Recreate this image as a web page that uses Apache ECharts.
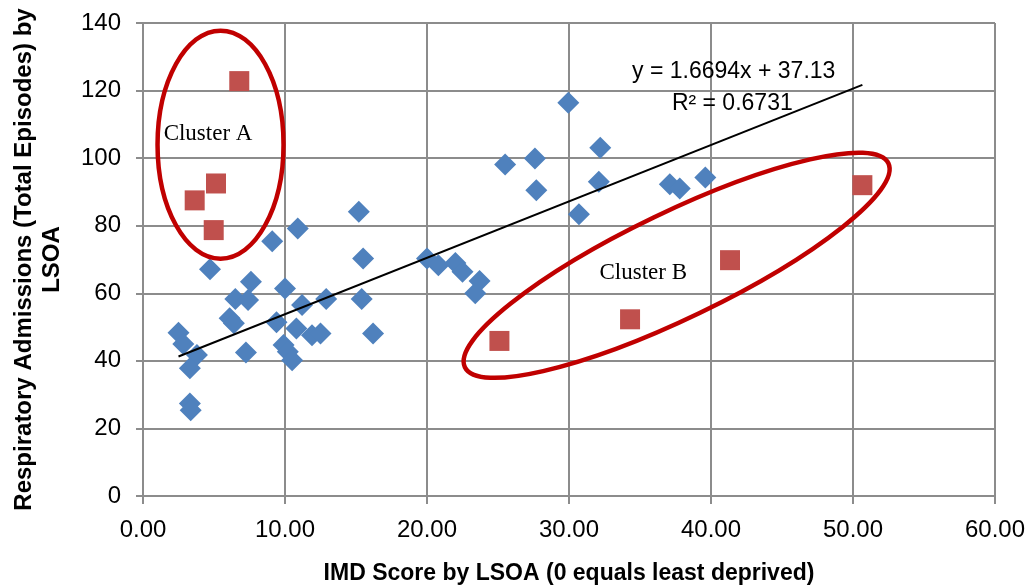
<!DOCTYPE html>
<html>
<head>
<meta charset="utf-8">
<script src="https://cdn.jsdelivr.net/npm/echarts@6/dist/echarts.min.js"></script>
<style>
    html, body { margin: 0; padding: 0; background: #fff; }
    #chart { width: 1025px; height: 585px; }
</style>
</head>
<body>
<div id="chart"></div>
<script>
// IMD score (x) and respiratory admissions (y) per LSOA
var blueX = [2.5, 2.84, 3.8, 3.3, 3.3, 3.36, 4.72, 6.1, 6.4, 6.5, 7.4, 7.6, 7.25, 9.1, 9.4,
    9.9, 10.0, 10.2, 10.5, 10.9, 10.8, 11.2, 11.9, 12.5, 12.9, 15.2, 15.5, 15.4, 16.2, 20.0,
    20.8, 22.0, 22.5, 23.7, 23.4, 25.5, 27.6, 27.7, 29.95, 32.2, 32.1, 30.7, 37.1, 37.8, 39.6];
var blueY = [48.3, 45.0, 41.7, 37.8, 27.4, 25.4, 67.1, 52.6, 51.1, 58.3, 58.0, 63.4, 42.5, 75.4, 51.4,
    44.7, 61.4, 42.7, 40.2, 79.2, 49.6, 56.5, 47.6, 48.1, 58.3, 84.1, 70.3, 58.3, 48.1, 70.3,
    68.3, 69.0, 66.4, 63.6, 60.0, 98.1, 99.9, 90.5, 116.4, 103.1, 93.0, 83.4, 92.3, 91.0, 94.3];
// outliers (cluster A and B)
var redX = [6.78, 5.14, 3.64, 4.98, 25.1, 34.3, 41.34, 50.66];
var redY = [122.8, 92.5, 87.5, 78.7, 45.9, 52.3, 69.8, 92.0];

// linear trend shown on the chart
var trendSlope = 1.6694;
var trendIntercept = 37.13;
var trendText = ['y = 1.6694x + 37.13', 'R\u00b2 = 0.6731'];

var xTicks = [0, 10, 20, 30, 40, 50, 60];
var yTicks = [0, 20, 40, 60, 80, 100, 120, 140];

function pairs(xs, ys) {
    var out = [];
    for (var i = 0; i < xs.length; i++) {
        out.push([xs[i], ys[i]]);
    }
    return out;
}

var allX = blueX.concat(redX);
var xMin = Math.min.apply(null, allX);
var xMax = Math.max.apply(null, allX);
var trendData = [
    [xMin, trendSlope * xMin + trendIntercept],
    [xMax, trendSlope * xMax + trendIntercept]
];

var gridColor = '#8c8c8c';
var myChart = echarts.init(document.getElementById('chart'));
var option = {
    animation: false,
    backgroundColor: '#fff',
    textStyle: { fontFamily: 'Liberation Sans, Arial, sans-serif' },
    grid: { left: 143, right: 30, top: 23, bottom: 89, outerBoundsMode: 'none', containLabel: false },
    xAxis: {
        type: 'value',
        min: xTicks[0],
        max: xTicks[xTicks.length - 1],
        interval: 10,
        name: 'IMD Score by LSOA (0 equals least deprived)',
        nameLocation: 'middle',
        nameGap: 66,
        nameTextStyle: { fontSize: 23, fontWeight: 'bold', color: '#000' },
        axisLine: { lineStyle: { color: gridColor, width: 2 } },
        axisTick: { show: true, length: 8, lineStyle: { color: gridColor, width: 2 } },
        axisLabel: {
            fontSize: 24, color: '#000', margin: 22,
            formatter: function (v) { return v.toFixed(2); }
        },
        splitLine: { show: true, lineStyle: { color: gridColor, width: 2 } }
    },
    yAxis: {
        type: 'value',
        min: yTicks[0],
        max: yTicks[yTicks.length - 1],
        interval: 20,
        name: 'Respiratory Admissions (Total Episodes) by\nLSOA',
        nameLocation: 'middle',
        nameGap: 77,
        nameRotate: 90,
        nameTextStyle: { fontSize: 24, fontWeight: 'bold', color: '#000', lineHeight: 28 },
        axisLine: { show: true, lineStyle: { color: gridColor, width: 2 } },
        axisTick: { show: true, length: 7, lineStyle: { color: gridColor, width: 2 } },
        axisLabel: { fontSize: 24, color: '#000', margin: 22 },
        splitLine: { show: true, lineStyle: { color: gridColor, width: 2 } }
    },
    series: [
        {
            name: 'LSOA',
            type: 'scatter',
            symbol: 'diamond',
            symbolSize: 22,
            itemStyle: { color: '#4f81bd', opacity: 1 },
            data: pairs(blueX, blueY),
            z: 3
        },
        {
            name: 'Clusters',
            type: 'scatter',
            symbol: 'rect',
            symbolSize: 20,
            itemStyle: { color: '#c0504d', opacity: 1 },
            data: pairs(redX, redY),
            z: 3
        },
        {
            name: 'Trend',
            type: 'line',
            data: trendData,
            symbol: 'none',
            lineStyle: { color: '#000', width: 2 },
            z: 4
        }
    ]
};
myChart.setOption(option);

// annotations: ellipse centres and text anchors in data units
function px(p) {
    return myChart.convertToPixel({ gridIndex: 0 }, p);
}
var cA = px([5.46, 104]);
var cB = px([37.58, 68.3]);
var tA = px([4.58, 107.3]);
var tB = px([35.23, 65.9]);
var tEq = px([41.6, 125.5]);
var tR = px([41.5, 116.2]);

myChart.setOption({
    graphic: [
        {
            type: 'ellipse', x: cA[0], y: cA[1], z: 10,
            shape: { cx: 0, cy: 0, rx: 63, ry: 114 },
            style: { fill: 'none', stroke: '#c00000', lineWidth: 4.5 }
        },
        {
            type: 'ellipse', x: cB[0], y: cB[1], z: 10,
            rotation: 25.7 * Math.PI / 180,
            shape: { cx: 0, cy: 0, rx: 235, ry: 53 },
            style: { fill: 'none', stroke: '#c00000', lineWidth: 4.5 }
        },
        {
            type: 'text', x: tA[0], y: tA[1], z: 11,
            style: { text: 'Cluster A', font: '23px "Liberation Serif", serif', fill: '#000', align: 'center', verticalAlign: 'middle' }
        },
        {
            type: 'text', x: tB[0], y: tB[1], z: 11,
            style: { text: 'Cluster B', font: '23px "Liberation Serif", serif', fill: '#000', align: 'center', verticalAlign: 'middle' }
        },
        {
            type: 'text', x: tEq[0], y: tEq[1], z: 11,
            style: { text: trendText[0], font: '23px "Liberation Sans", Arial, sans-serif', fill: '#000', align: 'center', verticalAlign: 'middle' }
        },
        {
            type: 'text', x: tR[0], y: tR[1], z: 11,
            style: { text: trendText[1], font: '23px "Liberation Sans", Arial, sans-serif', fill: '#000', align: 'center', verticalAlign: 'middle' }
        }
    ]
});
</script>
</body>
</html>
